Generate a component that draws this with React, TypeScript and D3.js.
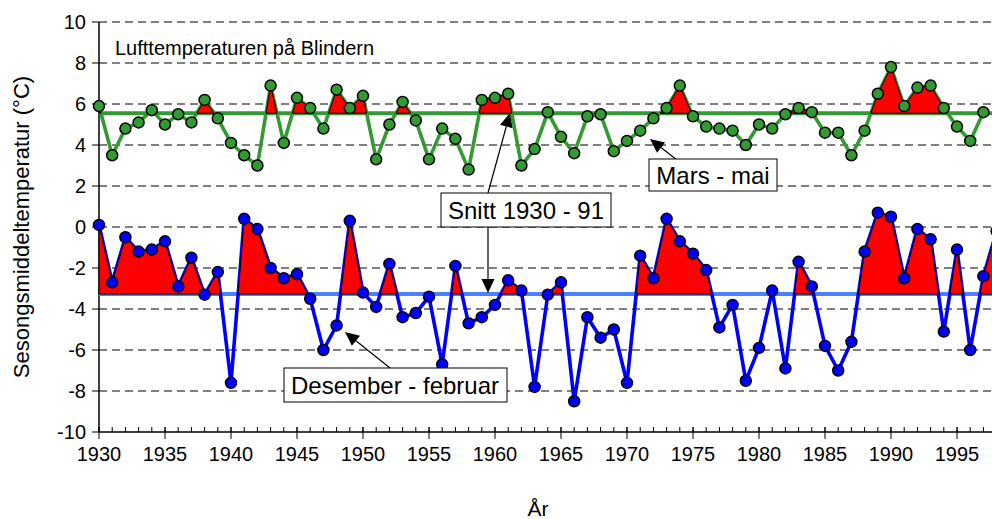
import React from "react";
import * as d3 from "d3";

// ---- Data ----
const winterYears = d3.range(1930, 1999); // Desember - februar, 1930..1998
const winterTemps = [
  0.1, -2.7, -0.5, -1.2, -1.1, -0.7, -2.9, -1.5, -3.3, -2.2,
  -7.6, 0.4, -0.1, -2.0, -2.5, -2.3, -3.5, -6.0, -4.8, 0.3,
  -3.2, -3.9, -1.8, -4.4, -4.2, -3.4, -6.7, -1.9, -4.7, -4.4,
  -3.8, -2.6, -3.1, -7.8, -3.3, -2.7, -8.5, -4.4, -5.4, -5.0,
  -7.6, -1.4, -2.5, 0.4, -0.7, -1.3, -2.1, -4.9, -3.8, -7.5,
  -5.9, -3.1, -6.9, -1.7, -2.9, -5.8, -7.0, -5.6, -1.2, 0.7,
  0.5, -2.5, -0.1, -0.6, -5.1, -1.1, -6.0, -2.4, -0.2,
];
const springYears = d3.range(1930, 1998); // Mars - mai, 1930..1997
const springTemps = [
  5.9, 3.5, 4.8, 5.1, 5.7, 5.0, 5.5, 5.1, 6.2, 5.3,
  4.1, 3.5, 3.0, 6.9, 4.1, 6.3, 5.8, 4.8, 6.7, 5.8,
  6.4, 3.3, 5.0, 6.1, 5.2, 3.3, 4.8, 4.3, 2.8, 6.2,
  6.3, 6.5, 3.0, 3.8, 5.6, 4.4, 3.6, 5.4, 5.5, 3.7,
  4.2, 4.7, 5.3, 5.8, 6.9, 5.4, 4.9, 4.8, 4.7, 4.0,
  5.0, 4.8, 5.5, 5.8, 5.6, 4.6, 4.6, 3.5, 4.7, 6.5,
  7.8, 5.9, 6.8, 6.9, 5.8, 4.9, 4.2, 5.6,
];
const winterMean = -3.27; // Snitt 1930 - 91
const springMean = 5.55;
const yTicks = d3.range(-10, 11, 2);
const xMajorTicks = d3.range(1930, 1996, 5);
const xMinorTicks = d3.range(1930, 1999, 1);

const W = 992;
const H = 519;
const FONT = "'Liberation Sans', Arial, Helvetica, sans-serif";

const x = d3.scaleLinear().domain([1930, 1998]).range([99, 99 + 68 * 13.2]);
const y = d3.scaleLinear().domain([-10, 10]).range([432, 22]);

type Pt = [number, number];

function excessPolys(xs: number[], vs: number[], m: number): Pt[][] {
  const polys: Pt[][] = [];
  let cur: Pt[] | null = null;
  for (let i = 0; i < vs.length; i++) {
    const v = vs[i];
    const xv = xs[i];
    const above = v > m;
    if (i === 0) {
      if (above) cur = [[xv, m], [xv, v]];
      continue;
    }
    const pv = vs[i - 1];
    const px = xs[i - 1];
    const aboveP = pv > m;
    if (aboveP !== above) {
      const t = (m - pv) / (v - pv);
      const cx = px + t * (xv - px);
      if (aboveP && cur) {
        cur.push([cx, m]);
        polys.push(cur);
        cur = null;
      } else {
        cur = [[cx, m]];
      }
    }
    if (above && cur) cur.push([xv, v]);
  }
  if (cur) {
    cur.push([xs[xs.length - 1], m]);
    polys.push(cur);
  }
  return polys;
}

const lineGen = d3
  .line<Pt>()
  .x((d) => x(d[0]))
  .y((d) => y(d[1]));

function Arrow({ x1, y1, x2, y2 }: { x1: number; y1: number; x2: number; y2: number }) {
  const ang = Math.atan2(y2 - y1, x2 - x1);
  const len = 14;
  const hw = 6.5;
  const bx = x2 - len * Math.cos(ang);
  const by = y2 - len * Math.sin(ang);
  const px = -Math.sin(ang) * hw;
  const py = Math.cos(ang) * hw;
  return (
    <g>
      <line x1={x1} y1={y1} x2={bx} y2={by} stroke="#000" strokeWidth={1.2} />
      <path d={`M${x2},${y2}L${bx + px},${by + py}L${bx - px},${by - py}Z`} fill="#000" />
    </g>
  );
}

function Series({
  years,
  temps,
  mean,
  color,
  meanColor,
}: {
  years: number[];
  temps: number[];
  mean: number;
  color: string;
  meanColor: string;
}) {
  const pts: Pt[] = years.map((yr, i) => [yr, temps[i]]);
  const polys = excessPolys(years, temps, mean);
  return (
    <g>
      <line x1={x(1930)} x2={W} y1={y(mean)} y2={y(mean)} stroke={meanColor} strokeWidth={4} />
      <path d={lineGen(pts) || ""} fill="none" stroke={color} strokeWidth={3.6} strokeLinejoin="round" />
      {polys.map((p, i) => (
        <path
          key={i}
          d={(lineGen(p) || "") + "Z"}
          fill="#ff0000"
          stroke="#000"
          strokeWidth={1}
          strokeLinejoin="round"
        />
      ))}
      {pts.map((d, i) => (
        <circle key={i} cx={x(d[0])} cy={y(d[1])} r={5.5} fill={color} stroke="#000" strokeWidth={1.5} />
      ))}
    </g>
  );
}

export default function App() {
  return (
    <svg
      width={W}
      height={H}
      style={{ position: "absolute", left: 0, top: 0, background: "#fff" }}
      fontFamily={FONT}
    >
      <rect x={0} y={0} width={W} height={H} fill="#fff" />
      <defs>
        <clipPath id="plot">
          <rect x={x(1930) - 10} y={0} width={W} height={H} />
        </clipPath>
      </defs>
      {/* gridlines */}
      {yTicks
        .filter((t) => t > -10)
        .map((t) => (
          <line key={t} x1={x(1930)} x2={W} y1={y(t)} y2={y(t)} stroke="#000" strokeWidth={1} strokeDasharray="8,5" />
        ))}
      {/* y axis */}
      <line x1={x(1930)} x2={x(1930)} y1={y(10)} y2={y(-10)} stroke="#000" strokeWidth={1.5} />
      {yTicks.map((t) => (
        <g key={t}>
          <line x1={x(1930) - 7} x2={x(1930)} y1={y(t)} y2={y(t)} stroke="#000" strokeWidth={1} />
          <text x={86} y={y(t) + 7} textAnchor="end" fontSize={20} fill="#000">
            {t}
          </text>
        </g>
      ))}
      {/* x axis */}
      <line x1={x(1930)} x2={W} y1={y(-10)} y2={y(-10)} stroke="#000" strokeWidth={1.5} />
      {xMinorTicks.map((t) => (
        <line key={t} x1={x(t)} x2={x(t)} y1={y(-10) - 5} y2={y(-10)} stroke="#000" strokeWidth={1} />
      ))}
      {xMajorTicks.map((t) => (
        <g key={t}>
          <line x1={x(t)} x2={x(t)} y1={y(-10) - 5} y2={y(-10) + 7} stroke="#000" strokeWidth={1} />
          <text x={x(t)} y={461} textAnchor="middle" fontSize={20} fill="#000">
            {t}
          </text>
        </g>
      ))}
      <text x={538} y={516} textAnchor="middle" fontSize={21} fill="#000">
        År
      </text>
      <text transform="translate(29,227) rotate(-90)" textAnchor="middle" fontSize={22} fill="#000">
        Sesongsmiddeltemperatur (°C)
      </text>

      <g clipPath="url(#plot)">
        <Series years={springYears} temps={springTemps} mean={springMean} color="#339933" meanColor="#339933" />
        <Series years={winterYears} temps={winterTemps} mean={winterMean} color="#0000ff" meanColor="#4d80ff" />
      </g>

      <text x={115} y={55} fontSize={20} fill="#000">
        Lufttemperaturen på Blindern
      </text>

      {/* annotations */}
      <Arrow x1={677} y1={160} x2={650} y2={139} />
      <rect x={649} y={159} width={128} height={32} fill="#fff" stroke="#000" strokeWidth={1} />
      <text x={713} y={184} textAnchor="middle" fontSize={24} fill="#000">
        Mars - mai
      </text>

      <Arrow x1={488} y1={193} x2={510} y2={113} />
      <Arrow x1={488} y1={227} x2={488} y2={293} />
      <rect x={441} y={193} width={170} height={34} fill="#fff" stroke="#000" strokeWidth={1} />
      <text x={526} y={219} textAnchor="middle" fontSize={24} fill="#000">
        Snitt 1930 - 91
      </text>

      <Arrow x1={390} y1={368} x2={345} y2={332} />
      <rect x={284} y={368} width={223} height={34} fill="#fff" stroke="#000" strokeWidth={1} />
      <text x={395} y={394} textAnchor="middle" fontSize={24} fill="#000">
        Desember - februar
      </text>
    </svg>
  );
}
